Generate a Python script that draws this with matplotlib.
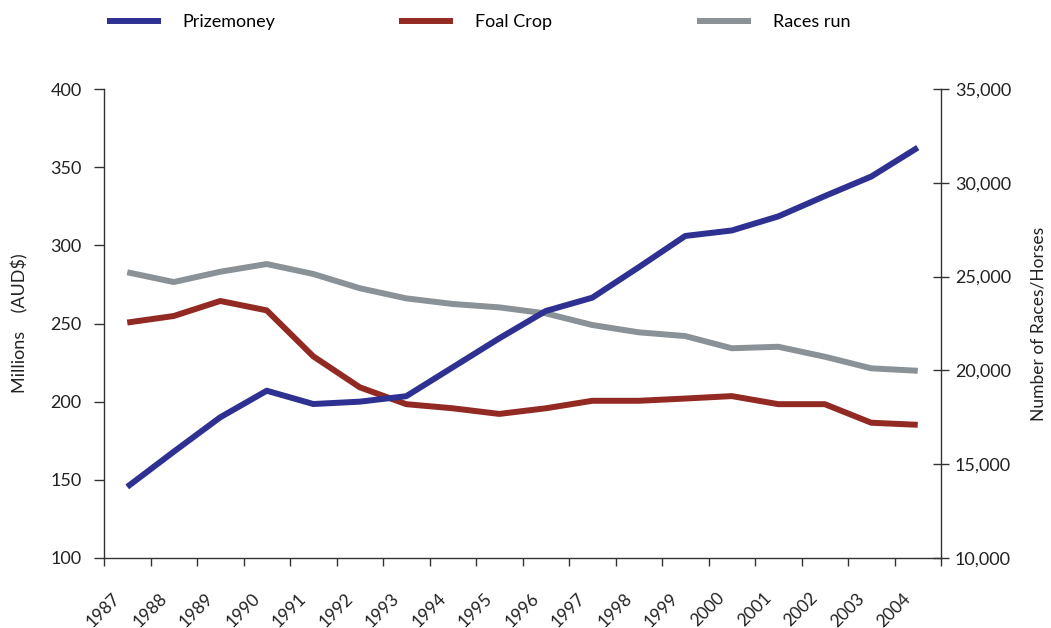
import matplotlib
matplotlib.use("Agg")
import matplotlib.pyplot as plt
import matplotlib.transforms as mtransforms
from matplotlib.lines import Line2D

plt.rcParams["font.family"] = ["Lato", "DejaVu Sans"]

years = [str(y) for y in range(1987, 2005)]
prizemoney = [145.5, 168, 190, 207, 198.5, 200, 203.5, 222, 240.5, 258, 266.5,
              286, 306, 309.5, 318.5, 331.5, 344, 362.5]
foal_crop = [22550, 22900, 23700, 23200, 20750, 19100, 18200, 17980, 17680, 17980,
             18380, 18380, 18500, 18630, 18200, 18200, 17210, 17100]
races_run = [25230, 24710, 25260, 25670, 25140, 24380, 23840, 23540, 23360, 23040,
             22420, 22030, 21830, 21180, 21260, 20730, 20110, 19980]

BLUE = "#2e3192"
RED = "#922a23"
GREY = "#8a9298"

fig = plt.figure(figsize=(10.51, 6.28), dpi=100)
ax = fig.add_axes([104 / 1051, 1 - 558 / 628, 837 / 1051, 469 / 628])
ax2 = ax.twinx()

x = list(range(len(years)))
ax.plot(x, prizemoney, color=BLUE, lw=4.3, solid_capstyle="butt", zorder=3)
ax2.plot(x, foal_crop, color=RED, lw=4.3, solid_capstyle="butt")
ax2.plot(x, races_run, color=GREY, lw=4.3, solid_capstyle="butt")
ax.set_zorder(ax2.get_zorder() + 1)
ax.patch.set_visible(False)

ax.set_xlim(-0.5, len(years) - 0.5)
ax.set_ylim(100, 400)
ax.set_yticks(range(100, 401, 50))
ax2.set_ylim(10000, 35000)
ax2.set_yticks(range(10000, 35001, 5000))
ax2.set_yticklabels([f"{v:,}" for v in range(10000, 35001, 5000)])

# ticks between categories, labels under category centres
ax.set_xticks([i - 0.5 for i in range(len(years) + 1)])
ax.set_xticklabels([])
offset = mtransforms.ScaledTranslation(-15 / 100, -32 / 100, fig.dpi_scale_trans)
for i, yr in enumerate(years):
    ax.text(i, 0, yr, transform=ax.get_xaxis_transform() + offset,
            rotation=45, ha="right", va="top", rotation_mode="anchor",
            fontsize=12.5, color="#222222")

for a in (ax, ax2):
    a.spines["top"].set_visible(False)
    for s in a.spines.values():
        s.set_color("#333333")
        s.set_linewidth(1.0)
ax2.spines["left"].set_visible(False)
ax2.spines["bottom"].set_visible(False)
ax.spines["right"].set_visible(False)

ax.tick_params(axis="y", direction="out", length=7, width=1, labelsize=13,
               colors="#333333", labelcolor="#222222", pad=9)
ax.tick_params(axis="x", direction="out", length=6, width=1, colors="#333333")
ax2.tick_params(axis="y", direction="inout", length=12, width=1, labelsize=13,
                colors="#333333", labelcolor="#222222", pad=4)

ax.set_ylabel("Millions    (AUD$)", fontsize=13, color="#222222", labelpad=16)
ax2.set_ylabel("Number of Races/Horses", fontsize=12.5, color="#222222", labelpad=14)

# legend across the top
entries = [("Prizemoney", BLUE, 107), ("Foal Crop", RED, 399), ("Races run", GREY, 697)]
for label, color, px in entries:
    h = Line2D([], [], color=color, lw=4.3, solid_capstyle="butt")
    fig.legend(handles=[h], labels=[label], loc="center left",
               bbox_to_anchor=(px / 1051, 1 - 22 / 628), frameon=False,
               fontsize=13, handlelength=3.0, handletextpad=1.2,
               borderpad=0, borderaxespad=0)

fig.savefig("out.png", dpi=100)
